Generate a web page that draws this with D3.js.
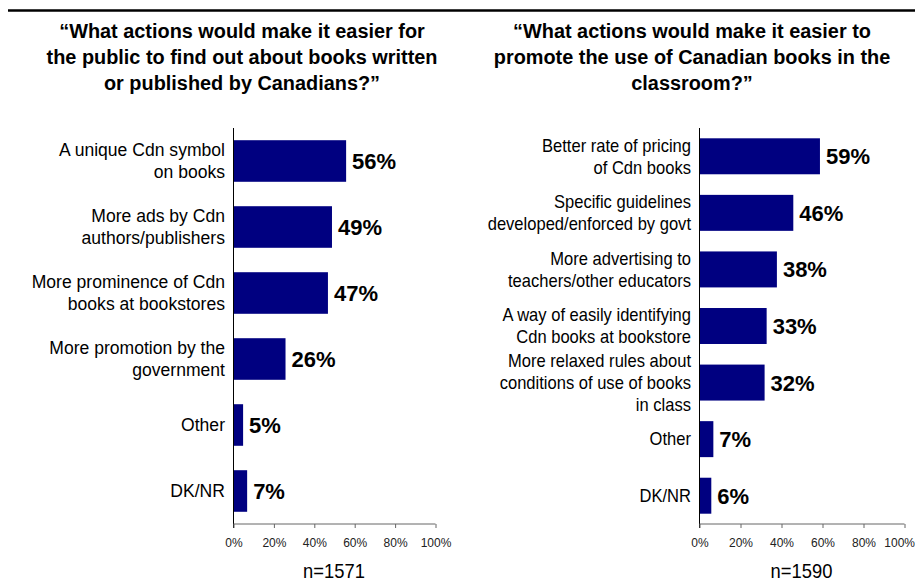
<!DOCTYPE html>
<html>
<head>
<meta charset="utf-8">
<script src="https://cdn.jsdelivr.net/npm/d3@7"></script>
<style>
  html, body { margin: 0; padding: 0; background: #fff; }
  svg { display: block; font-family: "Liberation Sans", Arial, sans-serif; }
</style>
</head>
<body>
<svg id="chart" width="915" height="587"></svg>
<script>
// Survey results: two horizontal bar panels
const leftTitle = ["\u201CWhat actions would make it easier for",
                   "the public to find out about books written",
                   "or published by Canadians?\u201D"];
const leftCategories = [
  "A unique Cdn symbol|on books",
  "More ads by Cdn|authors/publishers",
  "More prominence of Cdn|books at bookstores",
  "More promotion by the|government",
  "Other",
  "DK/NR"
];
const leftValues = [56, 49, 47, 26, 5, 7];
const leftN = "n=1571";

const rightTitle = ["\u201CWhat actions would make it easier to",
                    "promote the use of Canadian books in the",
                    "classroom?\u201D"];
const rightCategories = [
  "Better rate of pricing|of Cdn books",
  "Specific guidelines|developed/enforced by govt",
  "More advertising to|teachers/other educators",
  "A way of easily identifying|Cdn books at bookstore",
  "More relaxed rules about|conditions of use of books|in class",
  "Other",
  "DK/NR"
];
const rightValues = [59, 46, 38, 33, 32, 7, 6];
const rightN = "n=1590";

const tickValues = [0, 20, 40, 60, 80, 100];

const svg = d3.select("#chart");
const BAR = "#000080";

// heading rule
svg.append("line")
  .attr("x1", 8).attr("x2", 915).attr("y1", 10.5).attr("y2", 10.5)
  .attr("stroke", "#000").attr("stroke-width", 2.5);

// text that is slightly condensed horizontally around its anchor x
function condensed(parent, ax, sx) {
  return parent.append("g")
    .attr("transform", `translate(${ax},0) scale(${sx},1)`)
    .append("text");
}

function panel(opts) {
  const { title, titleX, categories, values, nLabel, x0, x1, labelSize, labelSx, padIn } = opts;
  const yTop = 128, yBottom = 524;
  const g = svg.append("g");

  // title
  condensed(g, titleX, 0.97)
    .attr("text-anchor", "middle")
    .attr("font-weight", "bold")
    .attr("font-size", 20.5)
    .selectAll("tspan").data(title).join("tspan")
    .attr("x", 0)
    .attr("y", (d, i) => 38.5 + i * 25.7)
    .text(d => d);

  const x = d3.scaleLinear().domain([0, 100]).range([x0, x1]);
  const y = d3.scaleBand().domain(categories).range([yTop, yBottom])
    .paddingInner(padIn).paddingOuter(padIn / 2);

  // bars
  g.selectAll("rect.bar").data(values).join("rect")
    .attr("class", "bar")
    .attr("x", x(0))
    .attr("y", (d, i) => y(categories[i]))
    .attr("width", d => x(d) - x(0))
    .attr("height", y.bandwidth())
    .attr("fill", BAR);

  // value labels
  g.selectAll("text.val").data(values).join("text")
    .attr("class", "val")
    .attr("x", d => x(d) + 6)
    .attr("y", (d, i) => y(categories[i]) + y.bandwidth() / 2 + 8)
    .attr("font-weight", "bold")
    .attr("font-size", 22)
    .attr("fill", "#000")
    .text(d => d + "%");

  // category labels (multi-line, right aligned)
  const lh = 22;
  categories.forEach(c => {
    const lines = c.split("|");
    const cy = y(c) + y.bandwidth() / 2;
    condensed(g, x0 - 8, labelSx)
      .attr("text-anchor", "end")
      .attr("font-size", labelSize)
      .attr("fill", "#000")
      .selectAll("tspan").data(lines).join("tspan")
      .attr("x", 0)
      .attr("y", (d, i) => cy + (i - (lines.length - 1) / 2) * lh + labelSize * 0.35)
      .text(d => d);
  });

  // vertical axis line
  g.append("line")
    .attr("x1", x0 + 0.5).attr("x2", x0 + 0.5)
    .attr("y1", yTop).attr("y2", yBottom + 4)
    .attr("stroke", "#000").attr("stroke-width", 1);

  // percentage axis
  const axis = d3.axisBottom(x)
    .tickValues(tickValues)
    .tickFormat(d => d + "%")
    .tickSize(4)
    .tickPadding(10);
  const ax = g.append("g")
    .attr("transform", `translate(0.5,${yBottom})`)
    .call(axis);
  ax.select(".domain").attr("stroke", "#666").attr("d", `M${x0},0H${x1}`);
  ax.selectAll(".tick line").attr("stroke", "#666");
  ax.selectAll(".tick text")
    .attr("font-family", "\"Liberation Sans\", Arial, sans-serif")
    .attr("font-size", 12)
    .attr("fill", "#222");
  // keep the last tick label inside the page
  ax.selectAll(".tick text").filter(d => d === 100 && x1 + 16 > 915)
    .attr("text-anchor", "end").attr("x", 914 - x1);

  // sample size
  condensed(g, (x0 + x1) / 2, 0.92)
    .attr("y", 578)
    .attr("text-anchor", "middle")
    .attr("font-size", 20)
    .attr("fill", "#000")
    .text(nLabel);
}

panel({
  title: leftTitle, titleX: 242,
  categories: leftCategories, values: leftValues, nLabel: leftN,
  x0: 233, x1: 435, labelSize: 18.5, labelSx: 0.95, padIn: 0.37
});

panel({
  title: rightTitle, titleX: 692,
  categories: rightCategories, values: rightValues, nLabel: rightN,
  x0: 699, x1: 904, labelSize: 18, labelSx: 0.92, padIn: 0.364
});
</script>
</body>
</html>
